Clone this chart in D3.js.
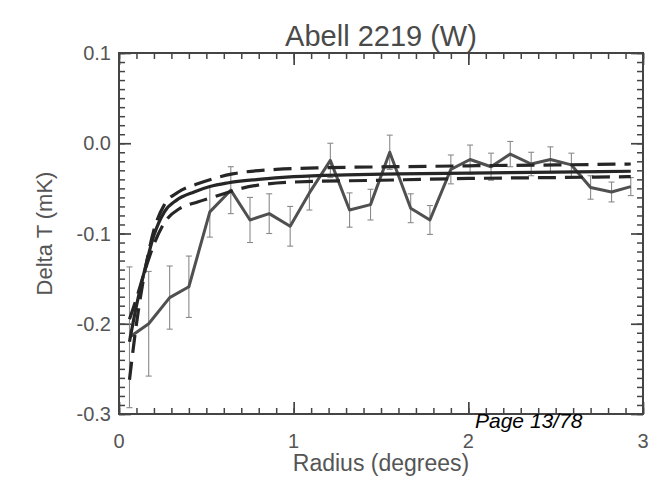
<!DOCTYPE html>
<html>
<head>
<meta charset="utf-8">
<script src="https://cdn.jsdelivr.net/npm/d3@7"></script>
<style>
    body { margin: 0; background: #fff; }
    text { font-family: "Liberation Sans", Arial, Helvetica, sans-serif; }
</style>
</head>
<body>
<div id="vis_container"></div>
<script>
// DATA
let radius = [0.06, 0.17, 0.29, 0.40, 0.52, 0.64, 0.75, 0.86, 0.98, 1.09, 1.21, 1.32, 1.44,
              1.55, 1.67, 1.78, 1.90, 2.01, 2.13, 2.24, 2.36, 2.47, 2.59, 2.70, 2.82, 2.93];
let deltaT = [-0.215, -0.200, -0.171, -0.159, -0.076, -0.052, -0.085, -0.078, -0.092, -0.055, -0.019, -0.074, -0.068,
              -0.010, -0.072, -0.085, -0.029, -0.018, -0.026, -0.012, -0.023, -0.018, -0.024, -0.049, -0.054, -0.048];
let errT = [0.078, 0.058, 0.035, 0.034, 0.028, 0.026, 0.025, 0.022, 0.022, 0.019, 0.019, 0.019, 0.017,
            0.019, 0.016, 0.016, 0.016, 0.016, 0.015, 0.014, 0.013, 0.014, 0.013, 0.013, 0.011, 0.010];

// best fit model (solid)
let modelR = [0.06, 0.10, 0.15, 0.20, 0.26, 0.33, 0.43, 0.52, 0.62, 0.80, 1.00, 1.30, 1.60, 2.00, 2.50, 2.93];
let modelV = [-0.220, -0.180, -0.138, -0.102, -0.076, -0.063, -0.054, -0.048, -0.044, -0.040, -0.037, -0.035, -0.034, -0.033, -0.032, -0.031];

// +/- 1 sigma models (dashed)
let upperR = [0.06, 0.10, 0.15, 0.20, 0.26, 0.34, 0.45, 0.65, 0.90, 1.20, 1.60, 2.00, 2.50, 2.93];
let upperV = [-0.262, -0.200, -0.140, -0.096, -0.068, -0.054, -0.045, -0.034, -0.029, -0.027, -0.026, -0.025, -0.024, -0.023];
let lowerR = [0.06, 0.10, 0.15, 0.20, 0.26, 0.35, 0.45, 0.55, 0.70, 1.00, 1.50, 2.00, 2.50, 2.93];
let lowerV = [-0.195, -0.172, -0.140, -0.112, -0.088, -0.072, -0.065, -0.059, -0.050, -0.043, -0.041, -0.039, -0.038, -0.037];

let xTicks = [0, 1, 2, 3];
let yTicks = [0.1, 0.0, -0.1, -0.2, -0.3];

let title = 'Abell 2219 (W)';
let xTitle = 'Radius (degrees)';
let yTitle = 'Delta T (mK)';
let pageNote = 'Page 13/78';

//SET UP
let width = 652, height = 480;
let margin = {left: 119, right: 9, top: 53, bottom: 66};

let svg = d3.select('#vis_container').append('svg')
    .attr('xmlns', 'http://www.w3.org/2000/svg')
    .attr('width', width)
    .attr('height', height);

let x = d3.scaleLinear().domain([0, 3]).range([margin.left, width - margin.right]);
let y = d3.scaleLinear().domain([-0.3, 0.1]).range([height - margin.bottom, margin.top]);

drawAxes();
drawData();
drawModels();
drawText();

/**
 * Frame with IDL style inward ticks on all four sides
 */
function drawAxes(){
    let tickColor = '#444';
    let xMinor = d3.range(0, 3.001, 0.1);
    let yMinor = d3.range(-0.3, 0.1001, 0.01);

    let axes = [
        {axis: d3.axisBottom(x), pos: y(-0.3), minor: xMinor, major: xTicks, horizontal: true},
        {axis: d3.axisTop(x), pos: y(0.1), minor: xMinor, major: xTicks, horizontal: true},
        {axis: d3.axisLeft(y), pos: x(0), minor: yMinor, major: yTicks, horizontal: false},
        {axis: d3.axisRight(y), pos: x(3), minor: yMinor, major: yTicks, horizontal: false}
    ];

    axes.forEach(function(a){
        let shift = a.horizontal ? `translate(0,${a.pos})` : `translate(${a.pos},0)`;
        // negative size -> ticks point into the plot
        let g = svg.append('g')
            .attr('transform', shift)
            .call(a.axis.tickValues(a.minor).tickSize(-6).tickFormat(''));
        g.select('.domain').remove();
        g.selectAll('line').attr('stroke', tickColor).attr('stroke-width', 1.5);

        let g2 = svg.append('g')
            .attr('transform', shift)
            .call(a.axis.tickValues(a.major).tickSize(-12).tickFormat(''));
        g2.select('.domain').remove();
        g2.selectAll('line').attr('stroke', tickColor).attr('stroke-width', 1.7);
    });

    svg.append('rect')
        .attr('x', x(0))
        .attr('y', y(0.1))
        .attr('width', x(3) - x(0))
        .attr('height', y(-0.3) - y(0.1))
        .attr('fill', 'none')
        .attr('stroke', '#444')
        .attr('stroke-width', 2);

    // tick labels
    svg.append('g').selectAll('text')
        .data(xTicks)
        .enter()
        .append('text')
        .attr('x', function(d){ return x(d); })
        .attr('y', y(-0.3) + 34)
        .attr('text-anchor', 'middle')
        .attr('font-size', 20)
        .attr('fill', '#555')
        .text(function(d){ return d; });

    svg.append('g').selectAll('text')
        .data(yTicks)
        .enter()
        .append('text')
        .attr('x', x(0) - 8)
        .attr('y', function(d){ return y(d); })
        .attr('dy', '0.35em')
        .attr('text-anchor', 'end')
        .attr('font-size', 20)
        .attr('fill', '#555')
        .text(function(d){ return d.toFixed(1); });
}

/**
 * Measured profile with error bars
 */
function drawData(){
    let points = radius.map(function(r, i){ return {r: r, v: deltaT[i], e: errT[i]}; });

    let bars = svg.append('g').attr('stroke', '#8a8a8a').attr('stroke-width', 1.1);
    bars.selectAll('line.bar')
        .data(points)
        .enter()
        .append('line')
        .attr('x1', function(d){ return x(d.r); })
        .attr('x2', function(d){ return x(d.r); })
        .attr('y1', function(d){ return y(d.v - d.e); })
        .attr('y2', function(d){ return y(d.v + d.e); });

    [-1, 1].forEach(function(s){
        bars.selectAll('line.cap' + s)
            .data(points)
            .enter()
            .append('line')
            .attr('x1', function(d){ return x(d.r) - 3; })
            .attr('x2', function(d){ return x(d.r) + 3; })
            .attr('y1', function(d){ return y(d.v + s * d.e); })
            .attr('y2', function(d){ return y(d.v + s * d.e); });
    });

    let line = d3.line()
        .x(function(d){ return x(d.r); })
        .y(function(d){ return y(d.v); });

    svg.append('path')
        .datum(points)
        .attr('d', line)
        .attr('fill', 'none')
        .attr('stroke', '#505050')
        .attr('stroke-width', 3)
        .attr('stroke-linejoin', 'round');
}

/**
 * Model curves: best fit (solid) and the two dashed ones
 */
function drawModels(){
    let curve = d3.line()
        .x(function(d){ return x(d[0]); })
        .y(function(d){ return y(d[1]); })
        .curve(d3.curveMonotoneX);

    let models = [
        {r: upperR, v: upperV, dash: '18,9'},
        {r: lowerR, v: lowerV, dash: '18,9'},
        {r: modelR, v: modelV, dash: null}
    ];

    models.forEach(function(m){
        svg.append('path')
            .datum(d3.zip(m.r, m.v))
            .attr('d', curve)
            .attr('fill', 'none')
            .attr('stroke', '#262626')
            .attr('stroke-width', 3.2)
            .attr('stroke-dasharray', m.dash);
    });
}

/**
 * Title, axis titles and the page note
 */
function drawText(){
    svg.append('text')
        .attr('x', (x(0) + x(3)) / 2)
        .attr('y', 46)
        .attr('text-anchor', 'middle')
        .attr('font-size', 29)
        .attr('fill', '#4a4a4a')
        .text(title);

    svg.append('text')
        .attr('x', (x(0) + x(3)) / 2)
        .attr('y', 471)
        .attr('text-anchor', 'middle')
        .attr('font-size', 23)
        .attr('fill', '#555')
        .text(xTitle);

    svg.append('text')
        .attr('transform', `translate(52,${(y(0.1) + y(-0.3)) / 2}) rotate(-90)`)
        .attr('text-anchor', 'middle')
        .attr('font-size', 22)
        .attr('fill', '#555')
        .text(yTitle);

    svg.append('text')
        .attr('x', 475)
        .attr('y', 428)
        .attr('font-size', 21)
        .attr('font-style', 'italic')
        .attr('fill', '#000')
        .text(pageNote);
}
</script>
</body>
</html>
